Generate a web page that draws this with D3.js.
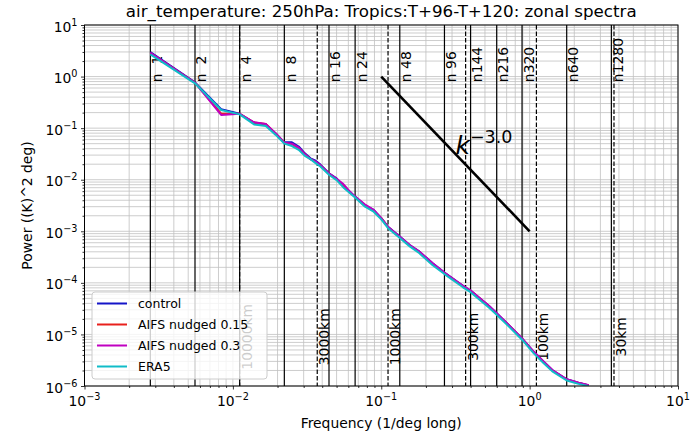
<!DOCTYPE html>
<html>
<head>
<meta charset="utf-8">
<script src="https://cdn.jsdelivr.net/npm/d3@7"></script>
<style>
body { margin: 0; background: #fff; }
text { font-family: "DejaVu Sans", sans-serif; fill: #000; }
</style>
</head>
<body>
<div id="chart"></div>
<script>
// spectra data (wavenumber n, freq = n/360)
const wavenumbers = [1, 2, 3, 4, 5, 6, 7, 8, 9, 10, 11, 12, 13, 14, 16, 18, 20, 22, 24, 28,
  32, 36, 40, 48, 56, 64, 80, 96, 128, 144, 192, 216, 256, 320, 384, 448, 512, 640, 768, 900];

const control = [3.0, 0.77, 0.232, 0.19, 0.127, 0.118, 0.079, 0.053, 0.053, 0.044, 0.0325, 0.026,
  0.0234, 0.0196, 0.0133, 0.0106, 0.0074, 0.0059, 0.0047, 0.0032, 0.0026, 0.0018, 0.00123, 0.00079,
  0.00054, 0.00042, 0.00024, 0.000158, 8.8e-5, 7.1e-5, 3.55e-5, 2.57e-5, 1.6e-5, 8.4e-6, 4.6e-6,
  2.95e-6, 2.04e-6, 1.35e-6, 1.16e-6, 1.03e-6];

const nudged015 = [2.85, 0.76, 0.19, 0.19, 0.128, 0.12, 0.078, 0.052, 0.049, 0.041, 0.031, 0.025,
  0.022, 0.0188, 0.013, 0.0102, 0.0078, 0.0058, 0.0046, 0.0031, 0.0025, 0.0018, 0.0012, 0.00077,
  0.00053, 0.00041, 0.00023, 0.000155, 8.6e-5, 7.0e-5, 3.5e-5, 2.5e-5, 1.58e-5, 8.3e-6, 4.5e-6,
  2.9e-6, 2.0e-6, 1.33e-6, 1.14e-6, 1.02e-6];

const nudged03 = [2.9, 0.76, 0.18, 0.19, 0.13, 0.12, 0.079, 0.052, 0.05, 0.042, 0.031, 0.025,
  0.0225, 0.019, 0.0132, 0.0104, 0.0082, 0.006, 0.0047, 0.0033, 0.0026, 0.0018, 0.00121, 0.00078,
  0.00054, 0.00042, 0.00024, 0.000157, 8.8e-5, 7.1e-5, 3.55e-5, 2.57e-5, 1.6e-5, 8.4e-6, 4.6e-6,
  2.95e-6, 2.04e-6, 1.35e-6, 1.16e-6, 1.03e-6];

const era5 = [2.7, 0.74, 0.225, 0.185, 0.118, 0.11, 0.074, 0.05, 0.045, 0.038, 0.029, 0.025,
  0.021, 0.018, 0.0125, 0.0098, 0.0071, 0.0056, 0.0045, 0.003, 0.0024, 0.0017, 0.00115, 0.00074,
  0.00051, 0.00039, 0.00022, 0.000148, 8.2e-5, 6.6e-5, 3.3e-5, 2.4e-5, 1.5e-5, 7.9e-6, 4.3e-6,
  2.75e-6, 1.92e-6, 1.28e-6, 1.1e-6, 0.99e-6];

const seriesNames = ["control", "AIFS nudged 0.15", "AIFS nudged 0.3", "ERA5"];
const seriesColors = ["#1414c8", "#e8201c", "#c000c0", "#10bcc8"];

// reference lines
const nLines = [1, 2, 4, 8, 16, 24, 48, 96, 144, 216, 320, 640, 1280];
const nLabels = ["n  1", "n  2", "n  4", "n  8", "n 16", "n 24", "n 48", "n 96", "n144", "n216", "n320", "n640", "n1280"];
const kmLines = [10000, 3000, 1000, 300, 100, 30];
const kmLabels = ["10000km", "3000km", "1000km", "300km", "100km", "30km"];
const kSlope = [[0.1, 1], [1, 0.001]];

const xTicks = [1e-3, 1e-2, 1e-1, 1e0, 1e1];
const xTickExp = ["\u22123", "\u22122", "\u22121", "0", "1"];
const yTicks = [1e1, 1e0, 1e-1, 1e-2, 1e-3, 1e-4, 1e-5, 1e-6];
const yTickExp = ["1", "0", "\u22121", "\u22122", "\u22123", "\u22124", "\u22125", "\u22126"];

// layout
const w = 700, h = 435;
const pl = 84.5, pr = 678, pt = 25, pb = 386;
const kmPerDeg = 111.1;
const fs = 13.9;

const svg = d3.select("#chart").append("svg")
  .attr("width", w)
  .attr("height", h)

const xScale = d3.scaleLog().domain([1e-3, 1e1]).range([pl, pr])
const yScale = d3.scaleLog().domain([1e-6, 1e1]).range([pb, pt])

svg.append("clipPath").attr("id", "plotclip")
  .append("rect")
  .attr("x", pl).attr("y", pt)
  .attr("width", pr - pl).attr("height", pb - pt)

// grid, major + minor
const grid = svg.append("g")
grid.selectAll(".gx").data(xScale.ticks()).join("line")
  .attr("x1", d => xScale(d)).attr("x2", d => xScale(d))
  .attr("y1", pt).attr("y2", pb)
  .attr("stroke", "#c0c0c0").attr("stroke-width", 0.8)
grid.selectAll(".gy").data(yScale.ticks()).join("line")
  .attr("x1", pl).attr("x2", pr)
  .attr("y1", d => yScale(d)).attr("y2", d => yScale(d))
  .attr("stroke", "#c0c0c0").attr("stroke-width", 0.8)

// wavenumber lines
svg.append("g").selectAll("line").data(nLines).join("line")
  .attr("x1", d => xScale(d / 360)).attr("x2", d => xScale(d / 360))
  .attr("y1", pt).attr("y2", pb)
  .attr("stroke", "#000").attr("stroke-width", 1.2)

// wavelength lines
svg.append("g").selectAll("line").data(kmLines).join("line")
  .attr("x1", d => xScale(kmPerDeg / d)).attr("x2", d => xScale(kmPerDeg / d))
  .attr("y1", pt).attr("y2", pb)
  .attr("stroke", "#000").attr("stroke-width", 1.2)
  .attr("stroke-dasharray", "4.5,2")

// labels for the lines
svg.append("g").selectAll("text").data(nLines).join("text")
  .attr("transform", d => "translate(" + (xScale(d / 360) + 11.5) + "," + yScale(0.78) + ") rotate(-90)")
  .attr("font-size", fs)
  .style("white-space", "pre")
  .text((d, i) => nLabels[i])

svg.append("g").selectAll("text").data(kmLines).join("text")
  .attr("transform", d => "translate(" + (xScale(kmPerDeg / d) + 12) + "," + yScale(9e-6) + ") rotate(-90)")
  .attr("font-size", fs)
  .attr("text-anchor", "middle")
  .text((d, i) => kmLabels[i])

// spectra
const line = d3.line()
  .x(d => xScale(d[0] / 360))
  .y(d => yScale(d[1]))

const allSeries = [control, nudged015, nudged03, era5];
svg.append("g").attr("clip-path", "url(#plotclip)")
  .selectAll("path").data(allSeries).join("path")
  .attr("d", d => line(d3.zip(wavenumbers, d)))
  .attr("fill", "none")
  .attr("stroke", (d, i) => seriesColors[i])
  .attr("stroke-width", 2)
  .attr("stroke-linejoin", "round")

// k^-3 reference slope
svg.append("path")
  .attr("d", d3.line().x(d => xScale(d[0])).y(d => yScale(d[1]))(kSlope))
  .attr("stroke", "#000")
  .attr("stroke-width", 2.6)
  .attr("fill", "none")

const kText = svg.append("text")
  .attr("x", xScale(Math.sqrt(kSlope[0][0] * kSlope[1][0])))
  .attr("y", yScale(Math.sqrt(kSlope[0][1] * kSlope[1][1])))
kText.append("tspan").attr("font-size", 25).attr("font-style", "italic").text("k")
kText.append("tspan").attr("font-size", 17.5).attr("dy", -11).text("\u22123.0")

// axes
const xAxis = d3.axisBottom(xScale).tickValues(xTicks).tickSize(3.5).tickSizeOuter(0).tickFormat("")
const xMinor = d3.axisBottom(xScale).tickValues(xScale.ticks().filter(d => !xTicks.includes(d))).tickSize(2).tickSizeOuter(0).tickFormat("")
const yAxis = d3.axisLeft(yScale).tickValues(yTicks).tickSize(3.5).tickSizeOuter(0).tickFormat("")
const yMinor = d3.axisLeft(yScale).tickValues(yScale.ticks().filter(d => !yTicks.some(t => Math.abs(t - d) < t * 1e-9))).tickSize(2).tickSizeOuter(0).tickFormat("")

svg.append("g").attr("transform", "translate(0," + pb + ")").call(xAxis)
svg.append("g").attr("transform", "translate(0," + pb + ")").call(xMinor)
svg.append("g").attr("transform", "translate(" + pl + ",0)").call(yAxis)
svg.append("g").attr("transform", "translate(" + pl + ",0)").call(yMinor)
svg.selectAll(".domain").remove()
svg.selectAll(".tick line").attr("stroke", "#000").attr("stroke-width", 0.8)

// frame
svg.append("rect")
  .attr("x", pl).attr("y", pt)
  .attr("width", pr - pl).attr("height", pb - pt)
  .attr("fill", "none").attr("stroke", "#000").attr("stroke-width", 1)

// tick labels as 10^n
const xl = svg.append("g").selectAll("text").data(xTicks).join("text")
  .attr("x", d => xScale(d))
  .attr("y", pb + 20)
  .attr("text-anchor", "middle")
  .attr("font-size", fs)
xl.append("tspan").text("10")
xl.append("tspan").attr("font-size", 9.7).attr("dy", -6).text((d, i) => xTickExp[i])

const yl = svg.append("g").selectAll("text").data(yTicks).join("text")
  .attr("x", pl - 7)
  .attr("y", d => yScale(d) + 6.5)
  .attr("text-anchor", "end")
  .attr("font-size", fs)
yl.append("tspan").text("10")
yl.append("tspan").attr("font-size", 9.7).attr("dy", -6).text((d, i) => yTickExp[i])

// titles
svg.append("text")
  .attr("x", (pl + pr) / 2).attr("y", 17)
  .attr("text-anchor", "middle")
  .attr("font-size", 16.7)
  .text("air_temperature: 250hPa: Tropics:T+96-T+120: zonal spectra")

svg.append("text")
  .attr("x", (pl + pr) / 2).attr("y", 428)
  .attr("text-anchor", "middle")
  .attr("font-size", fs)
  .text("Frequency (1/deg long)")

svg.append("text")
  .attr("transform", "translate(32," + (pt + pb) / 2 + ") rotate(-90)")
  .attr("text-anchor", "middle")
  .attr("font-size", fs)
  .text("Power ((K)^2 deg)")

// legend
const lg = svg.append("g").attr("transform", "translate(92,292)")
lg.append("rect")
  .attr("width", 175).attr("height", 87).attr("rx", 3)
  .attr("fill", "#fff").attr("fill-opacity", 0.8)
  .attr("stroke", "#cccccc").attr("stroke-width", 1)
const items = lg.selectAll(".item").data(seriesNames).join("g")
  .attr("transform", (d, i) => "translate(0," + (11.5 + i * 21) + ")")
items.append("line")
  .attr("x1", 5).attr("x2", 35)
  .attr("stroke", (d, i) => seriesColors[i])
  .attr("stroke-width", 2)
items.append("text")
  .attr("x", 46).attr("y", 4.5)
  .attr("font-size", 12.5)
  .text(d => d)
</script>
</body>
</html>
